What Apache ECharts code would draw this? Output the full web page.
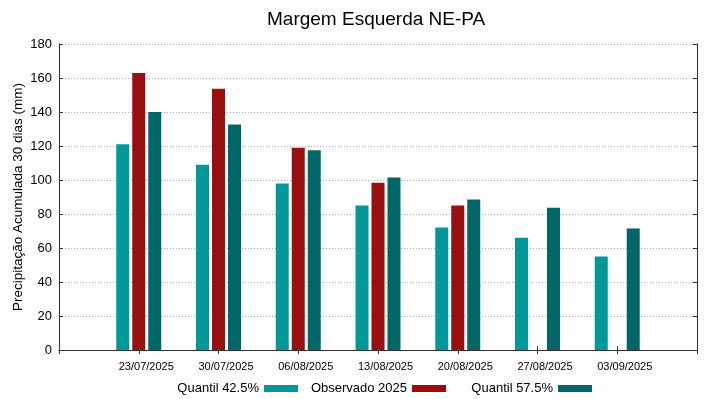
<!DOCTYPE html>
<html>
<head>
<meta charset="utf-8">
<script src="https://cdn.jsdelivr.net/npm/echarts@6/dist/echarts.min.js"></script>
<style>
html,body{margin:0;padding:0;background:#fff;}
#c{width:719px;height:399px;}
</style>
</head>
<body>
<div id="c"></div>
<script>
const categories = ['23/07/2025','30/07/2025','06/08/2025','13/08/2025','20/08/2025','27/08/2025','03/09/2025'];
const quantil425 = [121, 109, 98, 85, 72, 66, 55];
const observado2025 = [163, 153.7, 119, 98.4, 85, null, null];
const quantil575 = [140, 132.7, 117.5, 101.5, 88.5, 83.7, 71.5];
const yTicks = [0, 20, 40, 60, 80, 100, 120, 140, 160, 180];

const FONT = 'Liberation Sans';
const axisCats = [''].concat(categories, ['']);
const pad = arr => [null].concat(arr, [null]);

const chart = echarts.init(document.getElementById('c'), null, {renderer: 'canvas'});
const legendBase = {
  orient: 'horizontal', align: 'right', itemWidth: 34, itemHeight: 7, icon: 'rect', padding: 0,
  top: 382, textStyle: {fontFamily: FONT, fontSize: 13, color: '#000'}, selectedMode: false
};
chart.setOption({
  animation: false,
  backgroundColor: '#fff',
  title: {
    text: 'Margem Esquerda NE-PA', left: 262, top: 5,
    textStyle: {fontFamily: FONT, fontSize: 19, fontWeight: 'normal', color: '#000'}
  },
  legend: [
    Object.assign({}, legendBase, {data: ['Quantil 42.5%'], right: 719 - 298}),
    Object.assign({}, legendBase, {data: ['Observado 2025'], right: 719 - 446}),
    Object.assign({}, legendBase, {data: ['Quantil 57.5%'], right: 719 - 592})
  ],
  grid: {left: 59, right: 22, top: 44, bottom: 49, containLabel: false, outerBoundsMode: 'none'},
  xAxis: [
    {
      type: 'category', data: axisCats, boundaryGap: false, position: 'bottom',
      axisLine: {lineStyle: {color: '#333', width: 1}},
      axisTick: {inside: true, length: 4, lineStyle: {color: '#333'}},
      axisLabel: {fontFamily: FONT, fontSize: 11, color: '#000', margin: 11, padding: [0, 0, 0, 15], interval: 0},
      splitLine: {show: false}
    },
    {
      type: 'category', data: axisCats, boundaryGap: false, position: 'top',
      axisLine: {lineStyle: {color: '#333', width: 1}},
      axisTick: {inside: true, length: 4, lineStyle: {color: '#333'}},
      axisLabel: {show: false}, splitLine: {show: false}
    }
  ],
  yAxis: [
    {
      type: 'value', min: 0, max: 180, interval: 20, position: 'left',
      name: 'Precipitação Acumulada 30 dias (mm)', nameLocation: 'middle', nameGap: 34,
      nameMoveOverlap: false,
      nameTextStyle: {fontFamily: FONT, fontSize: 13.5, color: '#000'},
      axisLine: {show: true, lineStyle: {color: '#333', width: 1}},
      axisTick: {show: true, inside: true, length: 4, lineStyle: {color: '#333'}},
      axisLabel: {fontFamily: FONT, fontSize: 13, color: '#000', margin: 7,
        formatter: v => yTicks.includes(v) ? String(v) : ''},
      splitLine: {show: true, lineStyle: {type: [1, 2], color: '#aaa', width: 1}}
    },
    {
      type: 'value', min: 0, max: 180, interval: 20, position: 'right',
      axisLine: {show: true, lineStyle: {color: '#333', width: 1}},
      axisTick: {show: true, inside: true, length: 4, lineStyle: {color: '#333'}},
      axisLabel: {show: false}, splitLine: {show: false}
    }
  ],
  series: [
    {name: 'Quantil 42.5%', type: 'bar', data: pad(quantil425), barWidth: 13, barGap: '23%',
      itemStyle: {color: '#009999'}},
    {name: 'Observado 2025', type: 'bar', data: pad(observado2025), barWidth: 13, barGap: '23%',
      itemStyle: {color: '#990e0e'}},
    {name: 'Quantil 57.5%', type: 'bar', data: pad(quantil575), barWidth: 13, barGap: '23%',
      itemStyle: {color: '#006666'}}
  ]
});
</script>
</body>
</html>
